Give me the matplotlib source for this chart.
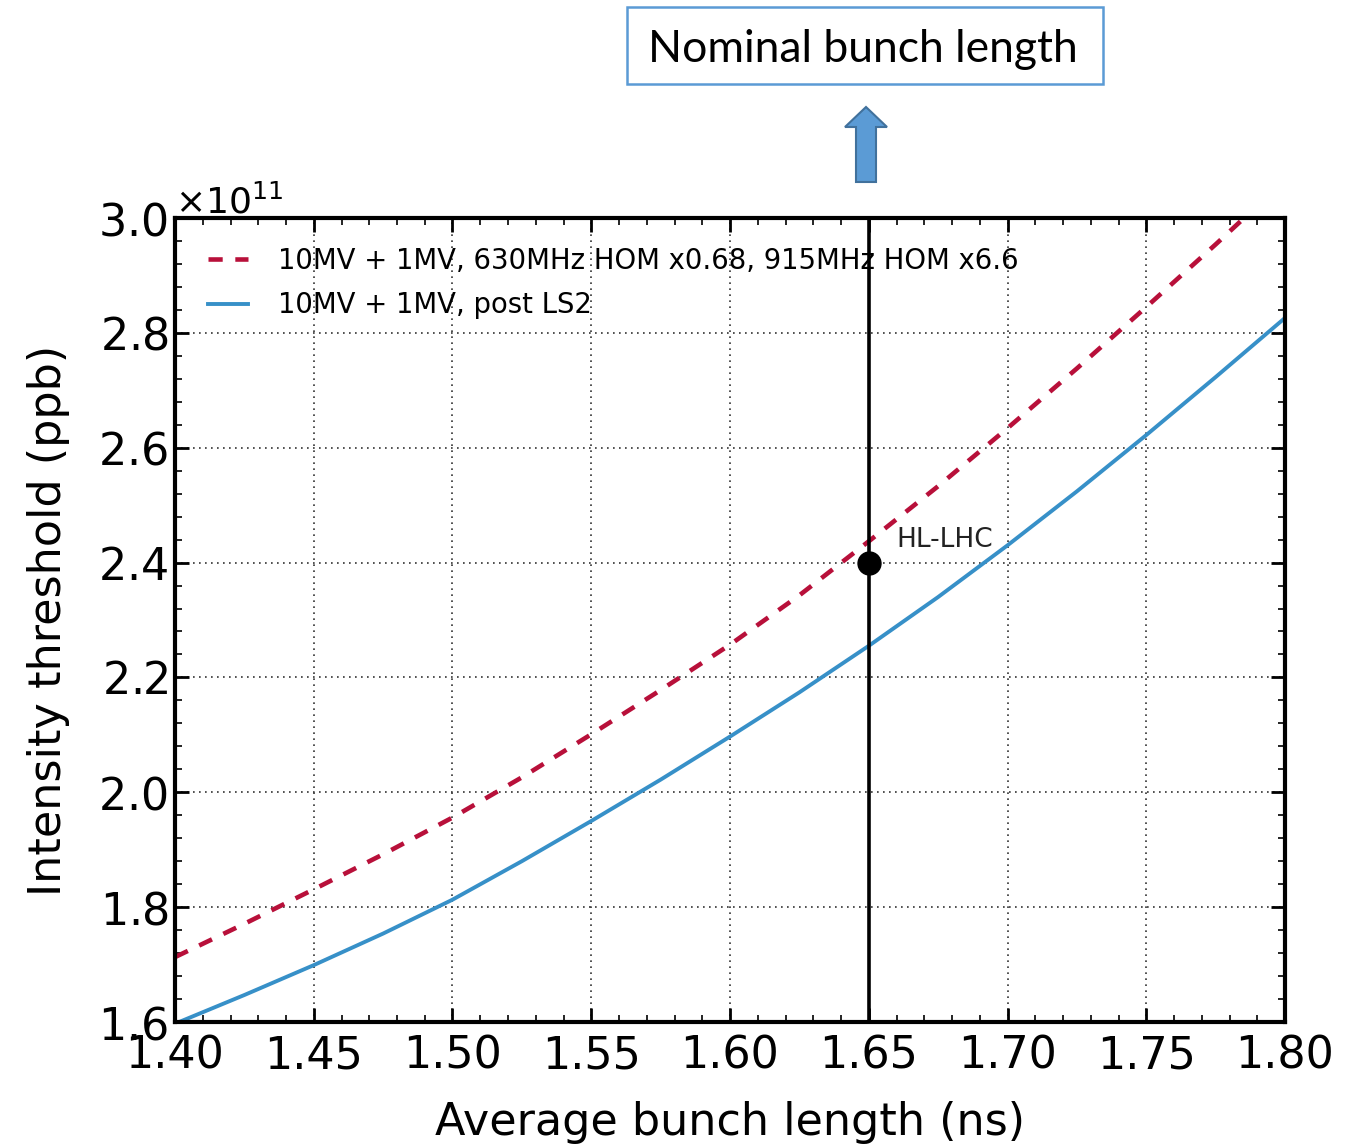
import numpy as np
import matplotlib
matplotlib.use("Agg")
import matplotlib.pyplot as plt
from matplotlib.patches import Polygon, Rectangle
from matplotlib.ticker import MultipleLocator, ScalarFormatter

plt.rcParams['font.family'] = ['DejaVu Sans']

# bunch length (ns) and intensity threshold (units of 1e11 ppb)
bunch_len = [1.400, 1.425, 1.450, 1.475, 1.500, 1.525, 1.550, 1.575, 1.600,
             1.625, 1.650, 1.675, 1.700, 1.725, 1.750, 1.775, 1.800]
thr_hom = [1.713, 1.771, 1.831, 1.892, 1.956, 2.026, 2.101, 2.178, 2.257,
           2.343, 2.437, 2.533, 2.634, 2.738, 2.845, 2.954, 3.066]
thr_ls2 = [1.597, 1.647, 1.699, 1.754, 1.813, 1.880, 1.950, 2.022, 2.097,
           2.174, 2.255, 2.340, 2.430, 2.524, 2.622, 2.723, 2.826]
label_hom = "10MV + 1MV, 630MHz HOM x0.68, 915MHz HOM x6.6"
label_ls2 = "10MV + 1MV, post LS2"
nominal_x = 1.65
hl_lhc = (1.65, 2.40)

fig = plt.figure(figsize=(13.55, 11.45), dpi=100)
W, H = 1355, 1145
ax = fig.add_axes([175 / W, 1 - 1022 / H, 1110 / W, 804 / H])

ax.plot(bunch_len, np.array(thr_hom) * 1e11, color="#b8103a", lw=3.3, dashes=(3.1, 2.75),
        label=label_hom)
ax.plot(bunch_len, np.array(thr_ls2) * 1e11, color="#3790c8", lw=2.8, label=label_ls2)
ax.axvline(nominal_x, color="black", lw=2.6)
ax.plot(hl_lhc[0], hl_lhc[1] * 1e11, "o", color="black", ms=16.5, zorder=5)
ax.text(1.66, 2.4276e11, "HL-LHC", fontsize=19, color="#222222", va="baseline")

ax.set_xlim(1.40, 1.80)
ax.set_ylim(1.6e11, 3.0e11)
ax.xaxis.set_major_locator(MultipleLocator(0.05))
ax.xaxis.set_minor_locator(MultipleLocator(0.01))
ax.yaxis.set_major_locator(MultipleLocator(0.2e11))
ax.yaxis.set_minor_locator(MultipleLocator(0.04e11))
ax.xaxis.set_major_formatter(plt.FuncFormatter(lambda v, p: "%.2f" % v))
fmt = ScalarFormatter(useMathText=True)
ax.yaxis.set_major_formatter(fmt)
ax.yaxis.get_offset_text().set_fontsize(26)

ax.tick_params(which="both", direction="in", top=True, right=True)
ax.tick_params(which="major", length=10, width=2, labelsize=32)
ax.tick_params(which="minor", length=5, width=1.2)
ax.tick_params(axis="x", pad=9)
ax.tick_params(axis="y", pad=5)
for s in ax.spines.values():
    s.set_linewidth(3)
ax.grid(True, which="major", color="#333333", ls=(0, (1, 2.6)), lw=1.2)

ax.set_xlabel("Average bunch length (ns)", fontsize=32, labelpad=17)
ax.set_ylabel("Intensity threshold (ppb)", fontsize=32, labelpad=20)
ax.legend(loc="upper left", frameon=False, fontsize=19.8, handlelength=1.44,
          handletextpad=1.1, borderaxespad=0.65, labelspacing=0.6,
          bbox_to_anchor=(0.004, 1.0))

# annotation box and arrow above the plot
fig.add_artist(Rectangle((627 / W, 1 - 84 / H), 476 / W, 77 / H, transform=fig.transFigure,
                         fill=False, edgecolor="#5b9bd5", lw=1.8))
fig.text(863 / W, 1 - 62 / H, "Nominal bunch length", fontsize=32, family="Lato",
         ha="center", va="baseline")
arrow_px = [(856, 182), (856, 127), (845, 127), (866, 107), (887, 127), (876, 127), (876, 182)]
fig.add_artist(Polygon([(px / W, 1 - py / H) for px, py in arrow_px], closed=True,
                       transform=fig.transFigure, facecolor="#5b9bd5", edgecolor="#41719c", lw=1.5))

fig.savefig("out.png", dpi=100)
